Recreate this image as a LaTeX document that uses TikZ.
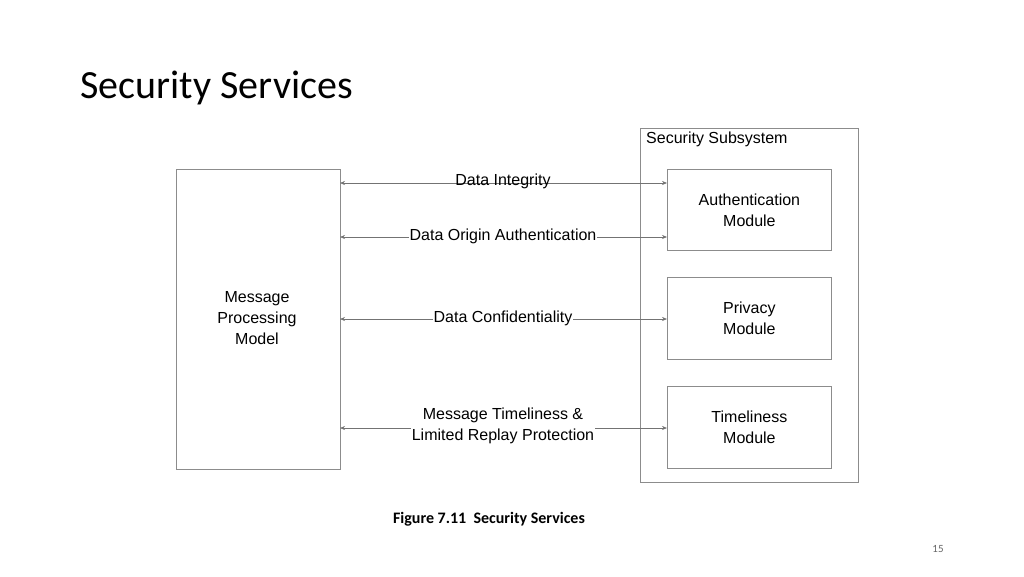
\documentclass[tikz,border=0pt]{standalone}
\usepackage{fontspec}
\setmainfont{Liberation Sans}
\newfontfamily\carlitofont{Carlito}
\usetikzlibrary{arrows.meta}
\begin{document}
\begin{tikzpicture}[x=1pt,y=-1pt,
  box/.style={draw=black!45,line width=0.8pt},
  lab/.style={font=\fontsize{16}{21}\selectfont,align=center,fill=white,inner sep=1pt},
  conn/.style={draw=black!55,line width=0.6pt,{Stealth[length=5pt,width=4pt]}-{Stealth[length=5pt,width=4pt]}}]
\useasboundingbox (0,0) rectangle (1024,576);
\node[anchor=base west,font=\carlitofont\fontsize{40}{44}\selectfont] (title) at (77,98) {Security Services};
\draw[box] (640,128) rectangle (858,482);
\node[anchor=north west,font=\fontsize{16}{20}\selectfont,inner sep=0] (ss) at (646,132) {Security Subsystem};
\node[box,minimum width=164,minimum height=300,anchor=north west] (mpm) at (176,169) {};
\node[lab,fill=none] at (257,318) {Message\\Processing\\Model};
\node[box,minimum width=164,minimum height=81,anchor=north west,lab,fill=white] (auth) at (667,169) {Authentication\\Module};
\node[box,minimum width=164,minimum height=82,anchor=north west,lab,fill=white] (priv) at (667,277) {Privacy\\Module};
\node[box,minimum width=164,minimum height=82,anchor=north west,lab,fill=white] (time) at (667,386) {Timeliness\\Module};
\coordinate (a1) at (340,183); \coordinate (b1) at (667,183);
\coordinate (a2) at (340,237); \coordinate (b2) at (667,237);
\coordinate (a3) at (340,319); \coordinate (b3) at (667,319);
\coordinate (a4) at (340,428); \coordinate (b4) at (667,428);
\draw[conn] (a1) -- (b1);
\draw[conn] (a2) -- (b2);
\draw[conn] (a3) -- (b3);
\draw[conn] (a4) -- (b4);
\node[lab,fill=none] (l1) at (503,181) {Data Integrity};
\node[lab] (l2) at (503,236) {Data Origin Authentication};
\node[lab] (l3) at (503,318) {Data Confidentiality};
\node[lab] (l4) at (503,426) {Message Timeliness \&\\Limited Replay Protection};
\node[font=\carlitofont\bfseries\fontsize{16}{20}\selectfont] (cap) at (489,519) {Figure 7.11\ \ Security Services};
\node[font=\carlitofont\fontsize{11}{13}\selectfont,text=black!60] (pg) at (938,549) {15};
\end{tikzpicture}
\end{document}
